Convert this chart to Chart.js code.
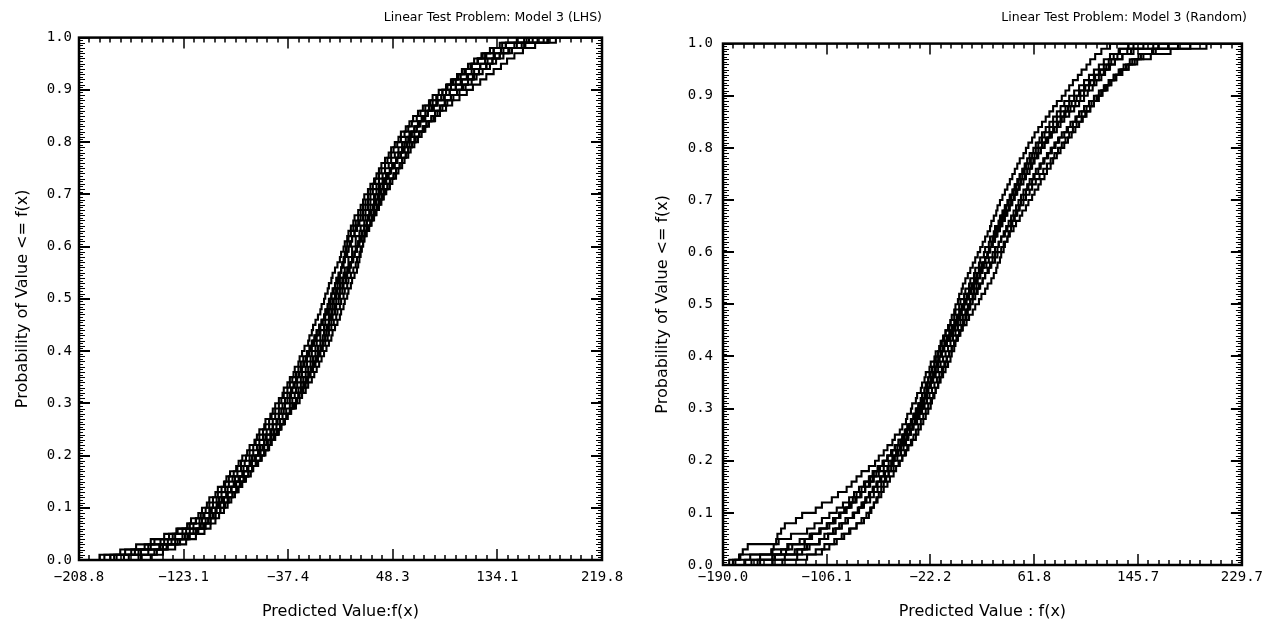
<!DOCTYPE html>
<html>
<head>
<meta charset="utf-8">
<title>Linear Test Problem: Model 3</title>
<script src="https://cdn.jsdelivr.net/npm/chart.js@4/dist/chart.umd.min.js"></script>
<style>
  html, body { margin: 0; padding: 0; background: #fff; }
  #wrap { position: relative; width: 1267px; height: 632px; }
  .panel { position: absolute; top: 0; }
  #lhsPanel { left: 0; }
  #rndPanel { left: 640px; }
</style>
</head>
<body>
<div id="wrap">
  <div class="panel" id="lhsPanel"><canvas id="lhsChart" width="640" height="632"></canvas></div>
  <div class="panel" id="rndPanel"><canvas id="rndChart" width="627" height="632"></canvas></div>
</div>
<script>
// Axis ticks
const lhsTicks = [-208.8, -123.1, -37.4, 48.3, 134.1, 219.8];
const lhsLabels = ['\u2212208.8', '\u2212123.1', '\u221237.4', '48.3', '134.1', '219.8'];
const rndTicks = [-190.0, -106.1, -22.2, 61.8, 145.7, 229.7];
const rndLabels = ['\u2212190.0', '\u2212106.1', '\u221222.2', '61.8', '145.7', '229.7'];
const probTicks = [0, 0.1, 0.2, 0.3, 0.4, 0.5, 0.6, 0.7, 0.8, 0.9, 1.0];

// LHS replicates: 100 predicted values each
const lhs1 = [-188, -171, -155, -147, -135, -128, -120, -117, -111, -108,
    -104, -102, -97, -95, -90, -88, -85, -80, -78, -75,
    -71, -69, -65, -63, -61, -57, -56, -52, -50, -48,
    -45, -42, -41, -38, -36, -33, -32, -29, -28, -26,
    -24, -21, -20, -18, -17, -15, -13, -11, -10, -8,
    -7, -5, -4, -2, -1, 1, 3, 5, 6, 8,
    9, 11, 12, 14, 16, 17, 20, 22, 24, 25,
    28, 30, 33, 35, 37, 39, 42, 45, 47, 50,
    53, 55, 59, 62, 65, 69, 73, 78, 81, 86,
    92, 96, 102, 108, 112, 118, 125, 131, 141, 158];
const lhs2 = [-150, -140, -130, -121, -113, -106, -101, -97, -94, -90,
    -87, -84, -81, -78, -75, -72, -68, -66, -62, -59,
    -56, -53, -51, -48, -45, -43, -40, -38, -35, -32,
    -30, -28, -25, -23, -21, -19, -17, -15, -13, -11,
    -9, -7, -5, -4, -2, 0, 2, 3, 5, 6,
    8, 9, 11, 12, 14, 16, 18, 19, 21, 22,
    24, 25, 27, 29, 31, 33, 35, 37, 39, 41,
    43, 46, 48, 51, 53, 56, 58, 61, 63, 66,
    69, 72, 75, 78, 82, 85, 89, 93, 98, 103,
    108, 113, 117, 122, 128, 133, 139, 146, 157, 176];
const lhs3 = [-180, -163, -150, -139, -130, -121, -115, -110, -106, -102,
    -99, -96, -92, -89, -86, -83, -79, -76, -73, -69,
    -66, -63, -61, -58, -55, -53, -50, -48, -45, -42,
    -40, -38, -35, -33, -31, -29, -27, -25, -23, -21,
    -19, -17, -15, -14, -12, -10, -8, -7, -5, -4,
    -2, -1, 1, 2, 4, 6, 8, 9, 11, 12,
    14, 15, 17, 19, 21, 24, 26, 28, 30, 33,
    35, 37, 40, 43, 46, 49, 52, 55, 58, 62,
    66, 70, 74, 78, 83, 87, 92, 97, 103, 109,
    114, 120, 125, 131, 137, 142, 148, 155, 165, 182];
const lhs4 = [-192, -175, -162, -150, -139, -129, -120, -113, -107, -101,
    -96, -92, -88, -84, -81, -77, -74, -70, -67, -64,
    -61, -58, -55, -52, -49, -47, -44, -42, -39, -36,
    -34, -32, -29, -27, -25, -23, -21, -19, -17, -15,
    -13, -11, -9, -8, -6, -4, -2, -1, 1, 2,
    4, 5, 7, 8, 10, 12, 14, 15, 17, 18,
    20, 21, 23, 25, 27, 29, 31, 33, 35, 37,
    39, 41, 43, 45, 47, 50, 52, 55, 57, 60,
    63, 66, 68, 71, 74, 77, 80, 84, 88, 92,
    96, 100, 104, 108, 113, 118, 122, 128, 136, 150];
const lhs5 = [-183, -166, -152, -142, -132, -124, -118, -113, -109, -105,
    -102, -99, -95, -92, -89, -86, -82, -79, -76, -72,
    -69, -66, -64, -61, -58, -56, -53, -51, -48, -45,
    -43, -41, -38, -36, -34, -31, -29, -27, -25, -22,
    -20, -18, -16, -14, -12, -10, -7, -5, -3, -1,
    1, 3, 5, 7, 9, 11, 13, 15, 17, 19,
    21, 23, 25, 27, 30, 32, 34, 36, 38, 40,
    42, 44, 46, 49, 51, 54, 56, 59, 61, 64,
    67, 70, 73, 76, 80, 83, 87, 91, 96, 101,
    105, 110, 114, 119, 125, 130, 136, 143, 154, 172];
const lhs6 = [-160, -147, -137, -128, -119, -111, -105, -101, -97, -93,
    -90, -87, -83, -80, -77, -74, -70, -67, -64, -60,
    -57, -54, -52, -49, -46, -44, -41, -39, -36, -33,
    -31, -29, -26, -24, -22, -20, -18, -16, -14, -12,
    -10, -9, -7, -6, -5, -4, -3, -2, -1, 0,
    1, 2, 3, 4, 5, 6, 7, 8, 9, 10,
    11, 12, 14, 16, 18, 20, 22, 24, 26, 28,
    30, 32, 34, 37, 39, 42, 44, 47, 49, 52,
    55, 58, 61, 64, 68, 71, 75, 79, 84, 89,
    93, 98, 102, 107, 113, 118, 124, 131, 141, 156];
const lhs7 = [-172, -160, -143, -136, -124, -118, -110, -108, -102, -100,
    -95, -94, -88, -87, -82, -81, -75, -74, -69, -67,
    -62, -61, -57, -56, -51, -50, -46, -45, -41, -40,
    -36, -35, -31, -30, -27, -26, -23, -22, -19, -18,
    -15, -14, -11, -11, -8, -7, -4, -4, -1, -1,
    2, 2, 5, 5, 8, 9, 12, 12, 15, 15,
    18, 18, 21, 22, 25, 26, 29, 30, 33, 34,
    37, 38, 41, 43, 46, 48, 51, 53, 56, 58,
    62, 64, 68, 70, 75, 77, 82, 85, 91, 95,
    100, 104, 109, 113, 120, 124, 131, 137, 150, 167];
const lhs8 = [-168, -152, -142, -133, -122, -115, -109, -105, -101, -97,
    -94, -91, -87, -84, -81, -78, -74, -71, -68, -64,
    -60, -57, -54, -51, -47, -44, -41, -38, -35, -31,
    -28, -26, -23, -21, -18, -16, -14, -12, -10, -8,
    -6, -4, -2, -1, 1, 3, 5, 6, 8, 9,
    11, 12, 14, 15, 17, 19, 20, 21, 22, 23,
    24, 25, 26, 28, 30, 31, 33, 35, 37, 39,
    41, 44, 46, 49, 51, 54, 56, 59, 61, 64,
    67, 70, 73, 76, 80, 83, 87, 91, 96, 101,
    106, 110, 115, 119, 125, 130, 136, 144, 156, 175];
const lhs9 = [-158, -145, -136, -126, -118, -112, -107, -103, -99, -96,
    -93, -90, -87, -84, -80, -77, -74, -71, -68, -65,
    -62, -60, -57, -55, -52, -50, -47, -45, -43, -40,
    -38, -36, -34, -32, -30, -28, -26, -24, -22, -20,
    -18, -16, -14, -12, -11, -9, -8, -6, -5, -3,
    -2, 0, 1, 3, 4, 6, 7, 9, 10, 12,
    13, 15, 17, 18, 20, 22, 24, 26, 28, 30,
    32, 35, 37, 40, 42, 45, 47, 50, 53, 56,
    59, 62, 66, 69, 73, 77, 81, 85, 90, 95,
    100, 105, 110, 115, 120, 126, 132, 139, 148, 163];
const lhs10 = [-178, -158, -140, -130, -120, -113, -106, -101, -97, -93,
    -89, -86, -83, -79, -76, -73, -70, -67, -63, -60,
    -57, -54, -51, -49, -46, -43, -41, -38, -36, -34,
    -31, -29, -27, -25, -23, -21, -19, -17, -15, -13,
    -11, -9, -7, -6, -4, -2, -1, 1, 2, 4,
    5, 7, 8, 10, 11, 13, 14, 16, 17, 19,
    20, 22, 23, 25, 27, 28, 30, 32, 34, 36,
    38, 40, 42, 44, 46, 48, 51, 53, 56, 58,
    61, 63, 66, 69, 72, 75, 78, 81, 85, 89,
    93, 97, 101, 105, 110, 115, 121, 128, 138, 160];

// Random sampling replicates: 100 predicted values each
const rnd1 = [-182, -176, -151, -149, -147, -146, -143, -140, -131, -126,
    -115, -110, -102, -97, -90, -86, -82, -78, -72, -67,
    -64, -60, -57, -53, -51, -47, -45, -42, -41, -38,
    -37, -34, -33, -30, -29, -27, -26, -23, -22, -19,
    -18, -15, -14, -11, -10, -7, -6, -3, -2, 1,
    2, 5, 6, 9, 10, 13, 14, 17, 18, 21,
    22, 25, 26, 29, 30, 33, 34, 37, 38, 41,
    42, 45, 46, 49, 50, 53, 55, 58, 60, 63,
    65, 68, 70, 74, 77, 80, 83, 87, 90, 94,
    98, 102, 106, 110, 114, 118, 122, 126, 131, 138];
const rnd2 = [-142, -130, -115, -108, -100, -94, -88, -82, -76, -72,
    -70, -68, -66, -64, -62, -60, -58, -56, -54, -52,
    -49, -46, -44, -42, -40, -38, -36, -34, -32, -30,
    -28, -27, -25, -24, -22, -21, -19, -18, -16, -15,
    -13, -12, -10, -8, -6, -4, -2, 0, 2, 4,
    6, 8, 10, 12, 14, 16, 18, 20, 22, 24,
    26, 28, 30, 32, 34, 36, 38, 40, 42, 44,
    46, 48, 50, 53, 55, 58, 60, 62, 65, 67,
    70, 72, 75, 77, 80, 83, 86, 89, 92, 96,
    99, 103, 107, 111, 115, 120, 124, 129, 137, 162];
const rnd3 = [-162, -150, -132, -124, -112, -105, -99, -94, -89, -85,
    -81, -78, -75, -72, -69, -66, -63, -60, -57, -54,
    -52, -49, -46, -43, -41, -38, -36, -33, -31, -29,
    -27, -25, -23, -21, -19, -17, -15, -13, -11, -9,
    -7, -5, -3, -1, 2, 4, 7, 9, 12, 14,
    17, 19, 22, 24, 27, 29, 31, 32, 34, 35,
    37, 38, 40, 41, 43, 44, 46, 47, 49, 51,
    53, 55, 57, 60, 62, 65, 67, 70, 73, 76,
    79, 82, 86, 89, 93, 96, 100, 104, 108, 112,
    116, 120, 124, 128, 133, 138, 143, 150, 160, 178];
const rnd4 = [-172, -160, -143, -137, -124, -120, -112, -106, -100, -96,
    -92, -88, -85, -82, -78, -75, -71, -68, -64, -60,
    -57, -54, -51, -48, -45, -43, -41, -38, -36, -34,
    -32, -30, -29, -27, -25, -24, -22, -21, -19, -18,
    -16, -15, -13, -12, -10, -8, -6, -5, -3, -2,
    0, 1, 3, 4, 6, 8, 10, 12, 14, 16,
    18, 20, 22, 24, 26, 27, 29, 31, 32, 34,
    36, 38, 40, 42, 44, 46, 48, 50, 53, 55,
    57, 60, 62, 65, 68, 71, 74, 77, 80, 84,
    87, 90, 93, 97, 100, 104, 107, 111, 116, 123];
const rnd5 = [-167, -150, -139, -134, -124, -118, -111, -104, -99, -95,
    -90, -86, -82, -78, -75, -71, -68, -64, -60, -56,
    -53, -50, -47, -45, -43, -41, -39, -37, -35, -33,
    -31, -29, -27, -25, -23, -21, -20, -18, -16, -15,
    -13, -11, -9, -7, -5, -3, -1, 1, 3, 5,
    7, 9, 11, 13, 15, 18, 20, 23, 25, 28,
    30, 33, 35, 38, 40, 43, 45, 48, 50, 53,
    55, 58, 60, 63, 66, 69, 72, 75, 78, 81,
    84, 87, 90, 93, 96, 100, 103, 107, 110, 114,
    117, 121, 124, 128, 132, 138, 145, 156, 172, 201];
const rnd6 = [-160, -148, -130, -122, -112, -105, -99, -94, -89, -84,
    -80, -77, -74, -71, -68, -65, -62, -59, -56, -53,
    -51, -48, -46, -44, -41, -39, -37, -35, -33, -31,
    -29, -28, -26, -25, -23, -22, -20, -19, -17, -16,
    -14, -12, -9, -6, -4, -2, 0, 2, 3, 5,
    6, 8, 9, 11, 13, 15, 17, 20, 22, 24,
    26, 28, 29, 31, 32, 34, 36, 38, 39, 41,
    43, 45, 47, 49, 52, 54, 57, 59, 62, 65,
    68, 71, 74, 78, 81, 84, 87, 91, 95, 99,
    102, 106, 110, 114, 118, 122, 127, 133, 142, 158];
const rnd7 = [-180, -177, -174, -170, -145, -135, -122, -116, -110, -104,
    -98, -93, -88, -84, -80, -76, -72, -69, -65, -61,
    -57, -53, -49, -46, -44, -42, -40, -38, -36, -34,
    -32, -30, -29, -27, -26, -24, -23, -21, -19, -18,
    -16, -14, -11, -9, -7, -5, -3, -1, 1, 3,
    5, 7, 9, 11, 13, 15, 17, 19, 22, 24,
    26, 28, 30, 31, 33, 35, 37, 39, 41, 43,
    45, 47, 49, 51, 54, 56, 59, 61, 64, 67,
    70, 73, 76, 80, 83, 86, 90, 94, 98, 102,
    105, 109, 112, 116, 119, 123, 127, 133, 140, 150];
const rnd8 = [-150, -140, -126, -120, -112, -108, -101, -96, -91, -85,
    -80, -76, -71, -68, -65, -62, -59, -56, -52, -48,
    -45, -42, -40, -37, -34, -32, -30, -28, -26, -24,
    -22, -21, -19, -18, -16, -15, -13, -12, -10, -9,
    -7, -5, -3, -1, 1, 3, 5, 7, 8, 10,
    12, 14, 16, 18, 20, 22, 24, 26, 28, 30,
    32, 33, 35, 37, 39, 41, 43, 45, 47, 49,
    51, 53, 56, 58, 61, 63, 66, 69, 72, 75,
    78, 81, 84, 88, 91, 95, 98, 102, 106, 110,
    114, 118, 122, 126, 131, 136, 141, 148, 157, 170];
const rnd9 = [-185, -168, -150, -138, -128, -119, -112, -106, -101, -96,
    -91, -87, -83, -79, -75, -72, -69, -66, -63, -60,
    -57, -54, -51, -48, -45, -42, -39, -37, -34, -32,
    -30, -28, -26, -24, -22, -20, -18, -16, -14, -12,
    -10, -8, -6, -4, -2, 0, 2, 4, 6, 8,
    10, 12, 15, 17, 20, 22, 25, 27, 30, 32,
    35, 37, 40, 42, 45, 47, 50, 52, 55, 57,
    60, 62, 65, 67, 70, 72, 75, 77, 80, 83,
    86, 89, 92, 95, 98, 101, 104, 107, 110, 113,
    116, 119, 122, 126, 130, 134, 139, 146, 158, 188];
const rnd10 = [-150, -122, -110, -104, -98, -92, -87, -82, -78, -74,
    -71, -68, -65, -62, -60, -57, -55, -52, -50, -47,
    -45, -43, -41, -38, -36, -34, -32, -30, -28, -26,
    -24, -22, -20, -18, -16, -14, -12, -10, -8, -6,
    -5, -3, -2, 0, 1, 3, 4, 6, 7, 9,
    10, 12, 13, 15, 16, 18, 19, 21, 22, 24,
    25, 27, 28, 30, 31, 33, 35, 36, 38, 40,
    42, 44, 46, 48, 50, 52, 54, 56, 58, 61,
    63, 66, 68, 71, 74, 77, 80, 83, 86, 90,
    94, 98, 102, 106, 110, 114, 118, 123, 130, 142];

const lhsRuns = [lhs1, lhs2, lhs3, lhs4, lhs5, lhs6, lhs7, lhs8, lhs9, lhs10];
const rndRuns = [rnd1, rnd2, rnd3, rnd4, rnd5, rnd6, rnd7, rnd8, rnd9, rnd10];

// Box frame with inward major/minor ticks on all four sides
const frameTicks = {
    id: 'frameTicks',
    afterDatasetsDraw(chart, args, opts) {
        const { ctx, chartArea: a, scales: { x, y } } = chart;
        const xt = opts.xTicks;
        ctx.save();
        ctx.strokeStyle = '#000';

        // x ticks, 10 subdivisions per major
        ctx.lineWidth = 1.5;
        ctx.beginPath();
        for (let i = 0; i < xt.length - 1; i++) {
            for (let j = 0; j < 10; j++) {
                const px = Math.round(x.getPixelForValue(xt[i] + (xt[i + 1] - xt[i]) * j / 10));
                const len = j === 0 ? 11 : 5;
                ctx.moveTo(px, a.bottom); ctx.lineTo(px, a.bottom - len);
                ctx.moveTo(px, a.top); ctx.lineTo(px, a.top + len);
            }
        }
        ctx.stroke();

        // y ticks every 0.005, majors every 0.1
        ctx.lineWidth = 1;
        ctx.beginPath();
        for (let k = 0; k <= 200; k++) {
            const py = Math.round(y.getPixelForValue(k / 200)) + 0.5;
            const len = k % 20 === 0 ? 11 : (k % 2 === 0 ? 6 : 4);
            ctx.moveTo(a.left, py); ctx.lineTo(a.left + len, py);
            ctx.moveTo(a.right, py); ctx.lineTo(a.right - len, py);
        }
        ctx.stroke();

        ctx.lineWidth = 2;
        ctx.beginPath();
        for (const v of probTicks) {
            const py = Math.round(y.getPixelForValue(v));
            ctx.moveTo(a.left, py); ctx.lineTo(a.left + 11, py);
            ctx.moveTo(a.right, py); ctx.lineTo(a.right - 11, py);
        }
        ctx.stroke();

        ctx.lineWidth = 2.5;
        ctx.strokeRect(a.left, a.top, a.right - a.left, a.bottom - a.top);
        ctx.restore();
    }
};

Chart.defaults.color = '#000';
Chart.defaults.font.family = '"DejaVu Sans", sans-serif';

function makePanel(canvasId, p) {
    const xMin = p.xTicks[0];
    const xMax = p.xTicks[p.xTicks.length - 1];

    // empirical CDF for each replicate
    const datasets = p.runs.map(run => {
        const sorted = run.slice().sort((a, b) => a - b);
        return {
            data: [{ x: xMin, y: 0 }]
                .concat(sorted.map((v, i) => ({ x: v, y: (i + 1) / sorted.length })))
                .concat([{ x: xMax, y: 1 }]),
            borderColor: '#000',
            borderWidth: 2.1,
            pointRadius: 0,
            stepped: 'before',
            fill: false
        };
    });

    return new Chart(document.getElementById(canvasId), {
        type: 'line',
        data: { datasets: datasets },
        plugins: [frameTicks],
        options: {
            responsive: false,
            animation: false,
            events: [],
            layout: { padding: { left: 0, right: p.padRight, top: 0, bottom: 0 } },
            plugins: {
                legend: { display: false },
                tooltip: { enabled: false },
                title: {
                    display: true,
                    text: p.title,
                    align: 'end',
                    font: { size: 12.5, weight: 'normal' },
                    padding: { top: 10, bottom: p.titleGap }
                },
                frameTicks: { xTicks: p.xTicks }
            },
            scales: {
                x: {
                    type: 'linear',
                    min: xMin,
                    max: xMax,
                    afterBuildTicks: s => { s.ticks = p.xTicks.map(v => ({ value: v })); },
                    afterFit: s => { s.height = p.xAxisHeight; },
                    grid: { display: false, drawTicks: false },
                    border: { display: false },
                    ticks: {
                        autoSkip: false,
                        maxRotation: 0,
                        padding: p.xLabelPad,
                        font: { family: '"DejaVu Sans Mono", monospace', size: 14 },
                        callback: (v, i) => p.xLabels[i]
                    },
                    title: {
                        display: true,
                        text: p.xTitle,
                        font: { size: 16 },
                        padding: { top: 0, bottom: 11 }
                    }
                },
                y: {
                    min: 0,
                    max: 1,
                    afterBuildTicks: s => { s.ticks = probTicks.map(v => ({ value: v })); },
                    afterFit: s => { s.width = p.yAxisWidth; },
                    grid: { display: false, drawTicks: false },
                    border: { display: false },
                    ticks: {
                        padding: p.yLabelPad,
                        font: { family: '"DejaVu Sans Mono", monospace', size: 14 },
                        callback: v => v.toFixed(1)
                    },
                    title: {
                        display: true,
                        text: 'Probability of Value <= f(x)',
                        font: { size: 16 },
                        padding: { top: 13, bottom: 0 }
                    }
                }
            }
        }
    });
}

makePanel('lhsChart', {
    runs: lhsRuns,
    xTicks: lhsTicks,
    xLabels: lhsLabels,
    title: 'Linear Test Problem: Model 3 (LHS)',
    xTitle: 'Predicted Value:f(x)',
    padRight: 38,
    titleGap: 12.6,
    xAxisHeight: 72,
    yAxisWidth: 79,
    xLabelPad: 9,
    yLabelPad: 7
});

makePanel('rndChart', {
    runs: rndRuns,
    xTicks: rndTicks,
    xLabels: rndLabels,
    title: 'Linear Test Problem: Model 3 (Random)',
    xTitle: 'Predicted Value : f(x)',
    padRight: 20,
    titleGap: 18.6,
    xAxisHeight: 67,
    yAxisWidth: 83,
    xLabelPad: 4,
    yLabelPad: 10
});
</script>
</body>
</html>
